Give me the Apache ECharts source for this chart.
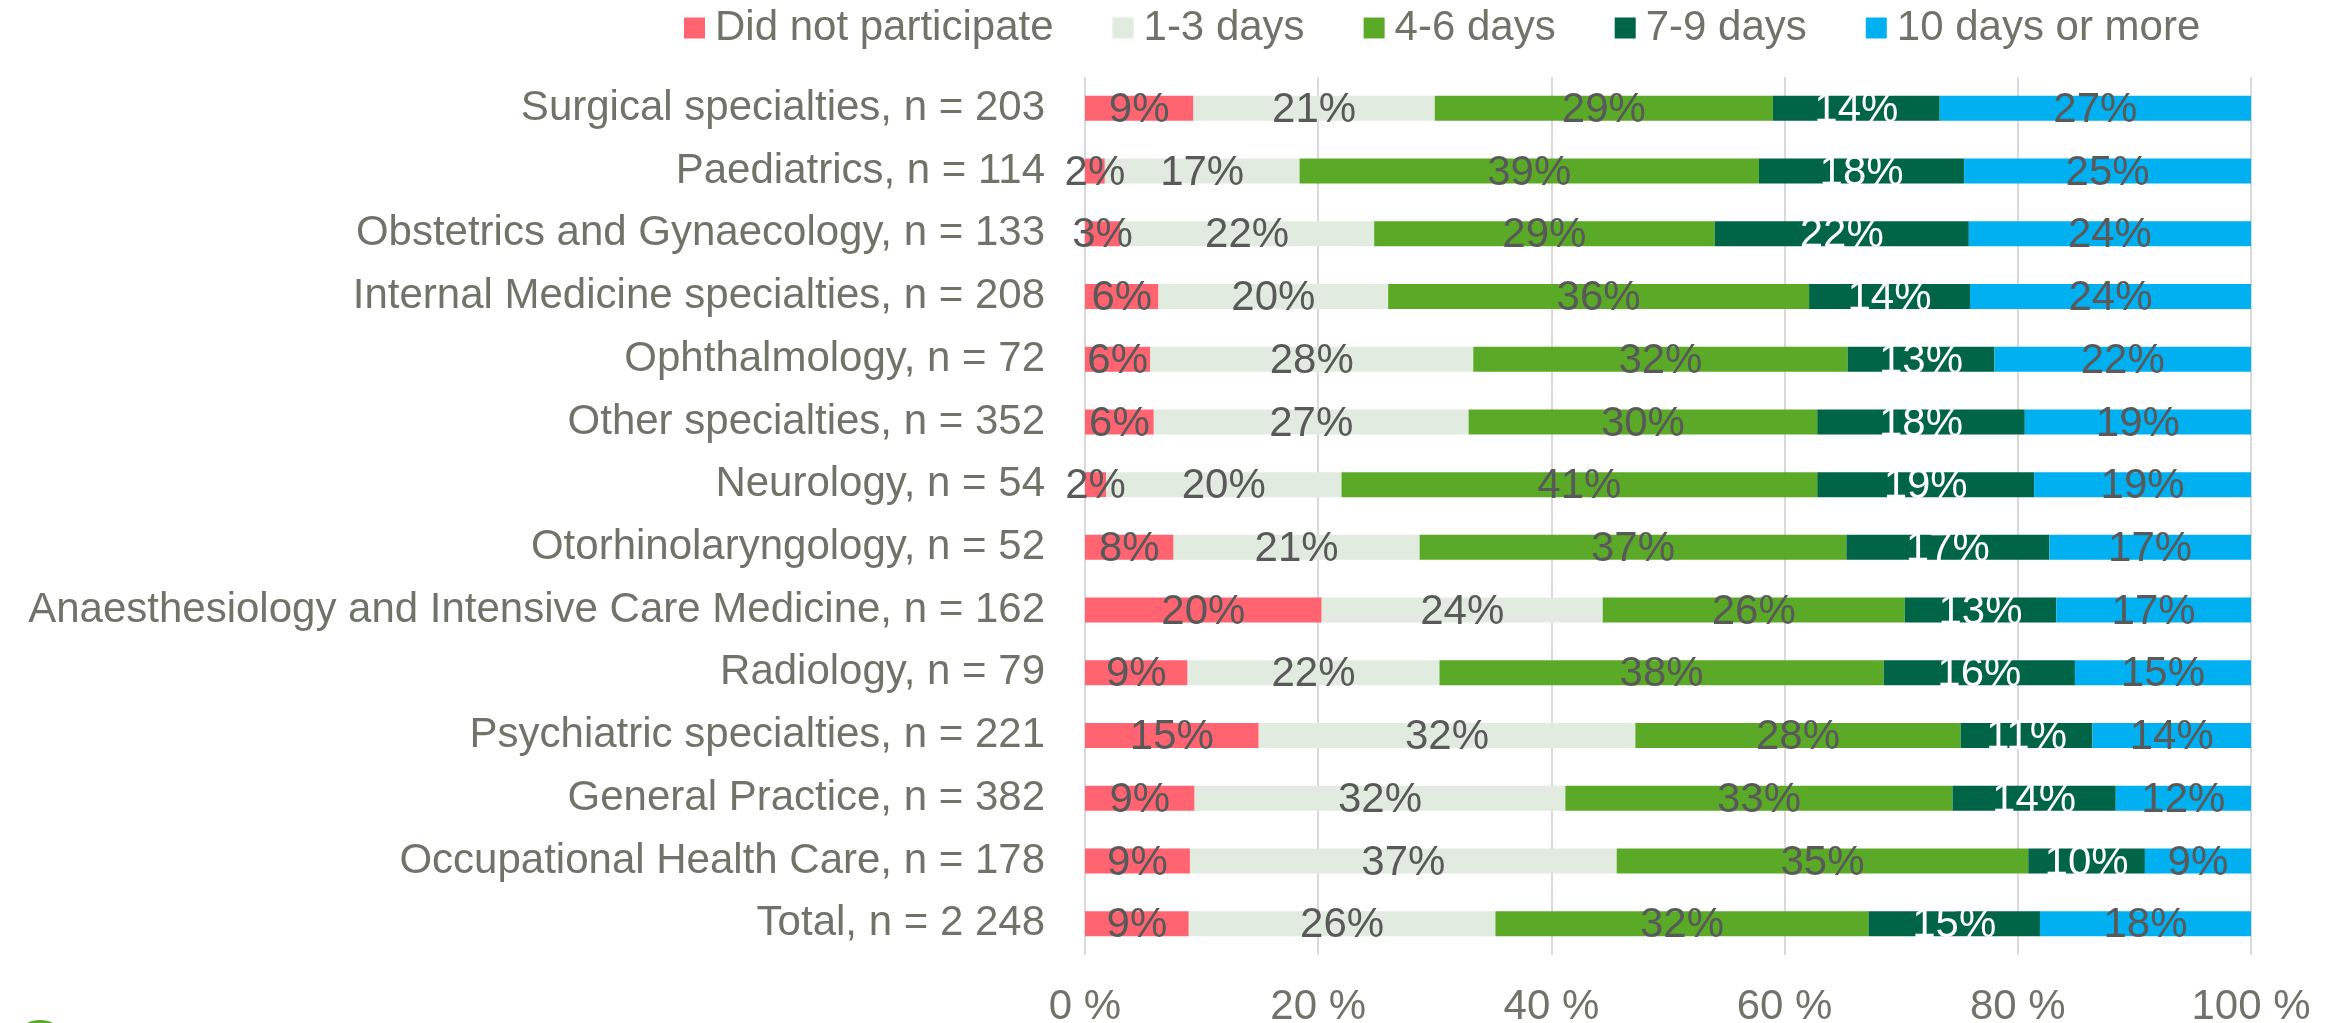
<!DOCTYPE html>
<html>
<head>
<meta charset="utf-8">
<title>Participation days by specialty</title>
<script src="https://cdn.jsdelivr.net/npm/echarts@6/dist/echarts.min.js"></script>
<style>
  html, body { margin: 0; padding: 0; background: #fff; }
  #chart { width: 2341px; height: 1023px; }
</style>
</head>
<body>
<div id="chart"></div>
<script>
// 数据
const categories = [
  'Surgical specialties, n = 203',
  'Paediatrics, n = 114',
  'Obstetrics and Gynaecology, n = 133',
  'Internal Medicine specialties, n = 208',
  'Ophthalmology, n = 72',
  'Other specialties, n = 352',
  'Neurology, n = 54',
  'Otorhinolaryngology, n = 52',
  'Anaesthesiology and Intensive Care Medicine, n = 162',
  'Radiology, n = 79',
  'Psychiatric specialties, n = 221',
  'General Practice, n = 382',
  'Occupational Health Care, n = 178',
  'Total, n = 2 248'
];
const seriesNames = ['Did not participate', '1-3 days', '4-6 days', '7-9 days', '10 days or more'];
const notParticipated = [9.3, 1.7, 3.0, 6.3, 5.6, 5.9, 1.8, 7.6, 20.3, 8.8, 14.9, 9.4, 9.0, 8.9];
const days1to3 = [20.7, 16.7, 21.8, 19.7, 27.7, 27.0, 20.2, 21.1, 24.1, 21.6, 32.3, 31.8, 36.6, 26.3];
const days4to6 = [29.0, 39.4, 29.2, 36.1, 32.1, 29.9, 40.8, 36.6, 25.9, 38.1, 27.9, 33.2, 35.3, 32.0];
const days7to9 = [14.3, 17.6, 21.8, 13.8, 12.6, 17.8, 18.6, 17.4, 13.0, 16.4, 11.3, 14.0, 10.0, 14.7];
const days10plus = [26.7, 24.6, 24.2, 24.1, 22.0, 19.4, 18.6, 17.3, 16.7, 15.1, 13.6, 11.6, 9.1, 18.1];
const xTicks = [0, 20, 40, 60, 80, 100];

const seriesData = [notParticipated, days1to3, days4to6, days7to9, days10plus];
const colors = ['#ff6470', '#e2ebe0', '#5aaa28', '#006446', '#00b0f0'];
const labelColors = ['#595959', '#595959', '#595959', '#ffffff', '#595959'];
const fontFamily = 'Liberation Sans, Arial, sans-serif';
const textGray = '#707368';

const chart = echarts.init(document.getElementById('chart'));

const option = {
  animation: false,
  color: colors,
  legend: {
    data: seriesNames,
    left: 679,
    top: 2,
    icon: 'rect',
    itemWidth: 21,
    itemHeight: 21,
    itemGap: 59,
    textStyle: { fontSize: 42, color: textGray, fontFamily: fontFamily, padding: [0, 0, 0, 5] }
  },
  grid: {
    left: 1085,
    right: 90,
    top: 77,
    bottom: 68,
    outerBoundsMode: 'none'
  },
  xAxis: {
    type: 'value',
    min: xTicks[0],
    max: xTicks[xTicks.length - 1],
    interval: 20,
    axisLine: { show: false },
    axisTick: { show: false },
    splitLine: { lineStyle: { color: '#d9d9d9', width: 2 } },
    axisLabel: {
      formatter: '{value} %',
      fontSize: 42,
      color: textGray,
      fontFamily: fontFamily,
      margin: 31
    }
  },
  yAxis: {
    type: 'category',
    data: categories,
    inverse: true,
    axisLine: { show: false },
    axisTick: { show: false },
    axisLabel: {
      fontSize: 42,
      color: textGray,
      fontFamily: fontFamily,
      margin: 40
    }
  },
  series: seriesNames.map((name, i) => ({
    name: name,
    type: 'bar',
    stack: 'total',
    barWidth: 25,
    data: seriesData[i],
    itemStyle: { color: colors[i] },
    label: {
      show: true,
      position: 'inside',
      offset: [0, 2],
      formatter: (p) => Math.round(p.value) + '%',
      fontSize: 42,
      color: labelColors[i],
      fontFamily: fontFamily
    }
  })),
  // 左下角被截掉的标志
  graphic: [
    {
      type: 'ellipse',
      shape: { cx: 40, cy: 1030, rx: 18, ry: 10 },
      style: { fill: '#5aaa28' }
    }
  ]
};

chart.setOption(option);
</script>
</body>
</html>
